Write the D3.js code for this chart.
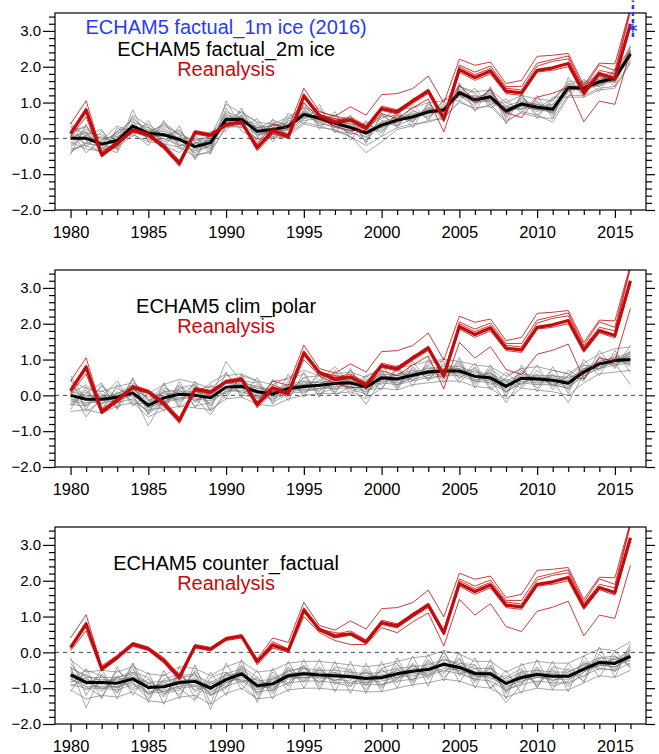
<!DOCTYPE html>
<html><head><meta charset="utf-8">
<script src="https://cdn.jsdelivr.net/npm/d3@7"></script>
<style>body{margin:0;background:#fff;} svg{display:block;font-family:"Liberation Sans",Arial,Helvetica,sans-serif;}</style>
</head><body><svg id="c" width="659" height="754"></svg>
<script>
// ---------- DATA ----------
const years = [1980,1981,1982,1983,1984,1985,1986,1987,1988,1989,1990,1991,1992,1993,1994,1995,1996,1997,1998,1999,2000,2001,2002,2003,2004,2005,2006,2007,2008,2009,2010,2011,2012,2013,2014,2015,2016];
const xTickLabels = ["1980","1985","1990","1995","2000","2005","2010","2015"];
const yTickLabels = ["-2.0","-1.0","0.0","1.0","2.0","3.0"];

// Reanalysis (same in all panels)
const reanalysisMean = [0.13,0.79,-0.46,-0.14,0.23,0.10,-0.23,-0.70,0.17,0.09,0.38,0.45,-0.26,0.20,0.05,1.18,0.63,0.45,0.52,0.29,0.83,0.74,1.04,1.32,0.55,1.92,1.70,1.88,1.32,1.27,1.90,1.97,2.09,1.27,1.81,1.67,3.20];
const reanalysisHigh = [0.40,1.05,-0.38,-0.08,0.28,0.15,-0.15,-0.62,0.22,0.14,0.42,0.50,-0.18,0.40,0.28,1.40,0.75,0.62,0.88,0.65,1.22,1.25,1.39,1.74,0.99,2.21,2.04,2.13,1.53,1.62,2.29,2.32,2.37,1.48,2.10,2.08,3.65];
const reanalysisA = [0.18,0.85,-0.42,-0.12,0.25,0.12,-0.20,-0.66,0.20,0.10,0.40,0.47,-0.22,0.25,0.08,1.25,0.68,0.50,0.60,0.35,0.90,0.80,1.08,1.38,0.62,2.00,1.78,1.95,1.40,1.35,2.02,2.15,2.22,1.35,1.90,1.80,3.55];
const reanalysisB = [0.10,0.72,-0.50,-0.16,0.20,0.08,-0.26,-0.74,0.15,0.07,0.36,0.43,-0.30,0.17,0.03,1.12,0.60,0.40,0.48,0.24,0.78,0.68,0.98,1.25,0.48,1.85,1.62,1.80,1.25,1.20,1.85,1.90,2.00,1.20,1.75,1.60,3.10];
const reanalysisC = [0.15,0.80,-0.45,-0.10,0.24,0.11,-0.22,-0.68,0.18,0.11,0.39,0.46,-0.24,0.30,0.10,1.20,0.65,0.55,0.50,0.30,0.85,0.72,1.10,1.30,0.50,2.05,1.85,2.02,1.45,1.45,2.10,2.20,2.30,1.40,2.05,1.90,3.60];
const reanalysisLow = [0.05,0.60,-0.52,-0.20,0.17,0.05,-0.30,-0.78,0.12,0.04,0.33,0.40,-0.35,0.12,0.00,1.00,0.55,0.33,0.22,0.22,0.69,0.55,0.85,1.10,0.18,1.48,1.04,1.36,0.72,0.58,1.15,1.26,1.43,0.46,1.04,0.95,2.43];

// Panel 1: ECHAM5 factual_2m ice
const factualMean = [0.00,0.00,-0.16,-0.06,0.34,0.14,0.10,-0.03,-0.23,-0.12,0.53,0.53,0.20,0.25,0.33,0.67,0.56,0.42,0.30,0.15,0.37,0.51,0.60,0.74,0.79,1.28,1.07,1.16,0.76,0.96,0.87,0.81,1.42,1.40,1.58,1.68,2.36];
const factualMembers = [
[0.25,0.30,-0.05,0.10,0.55,0.20,0.35,0.10,-0.05,0.05,0.95,0.70,0.45,0.40,0.60,0.85,0.75,0.60,0.55,0.35,0.55,0.80,0.85,1.00,1.05,1.45,1.30,1.35,1.00,1.20,1.10,1.05,1.60,1.55,1.75,1.85,2.55],
[-0.30,-0.20,-0.40,-0.25,0.10,-0.10,-0.15,-0.25,-0.50,-0.35,0.30,0.35,-0.05,0.05,0.10,0.45,0.35,0.20,0.05,-0.40,-0.10,0.25,0.35,0.50,0.55,1.05,0.80,0.95,0.50,0.70,0.60,0.55,1.20,1.20,1.40,1.45,2.15],
[0.10,-0.15,0.05,-0.20,0.45,0.30,-0.05,0.15,-0.10,-0.30,0.70,0.40,0.35,0.10,0.50,0.55,0.70,0.30,0.45,0.00,0.50,0.40,0.75,0.65,0.95,1.15,1.20,1.00,0.90,0.80,1.00,0.70,1.55,1.30,1.70,1.60,2.45],
[-0.15,0.20,-0.30,0.05,0.25,0.00,0.25,-0.15,-0.35,0.00,0.40,0.65,0.05,0.40,0.20,0.80,0.45,0.55,0.20,0.30,0.25,0.60,0.50,0.85,0.65,1.40,0.95,1.30,0.65,1.10,0.75,0.95,1.30,1.50,1.45,1.75,2.25],
[0.35,0.05,-0.10,0.15,0.20,0.40,0.05,0.20,-0.20,-0.05,0.60,0.45,0.30,0.35,0.45,0.60,0.65,0.45,0.40,0.25,0.20,0.55,0.70,0.60,0.90,1.20,1.15,1.05,0.85,0.90,0.95,0.75,1.45,1.35,1.60,1.70,2.30],
[-0.40,-0.10,-0.25,-0.40,0.40,0.05,0.15,-0.30,-0.10,-0.25,0.45,0.60,0.10,0.15,0.25,0.70,0.40,0.35,0.15,0.05,0.45,0.35,0.55,0.80,0.70,1.30,1.00,1.20,0.70,1.00,0.80,0.90,1.35,1.45,1.55,1.65,2.40],
[0.15,0.35,-0.20,0.00,0.60,0.10,0.30,-0.05,-0.40,-0.20,0.50,0.75,0.25,0.50,0.35,0.90,0.55,0.65,0.25,0.40,0.60,0.65,0.45,0.95,0.75,1.50,1.05,1.35,0.60,1.15,0.85,1.10,1.50,1.60,1.50,1.90,2.50],
[-0.10,-0.30,-0.35,-0.10,0.15,0.25,-0.10,0.05,-0.45,-0.40,0.35,0.30,0.00,0.00,0.05,0.40,0.30,0.25,0.05,-0.20,0.05,0.30,0.40,0.45,0.60,1.00,0.85,0.90,0.45,0.75,0.65,0.45,1.15,1.15,1.35,1.40,2.10],
[0.05,0.15,0.10,-0.15,0.30,0.20,0.20,0.00,-0.25,-0.10,0.75,0.55,0.15,0.30,0.55,0.65,0.60,0.50,0.35,0.20,0.40,0.45,0.65,0.70,0.85,1.25,1.10,1.10,0.80,1.00,0.95,0.85,1.40,1.40,1.60,1.60,2.35],
[-0.20,0.10,-0.15,0.20,0.50,-0.05,0.00,-0.20,-0.15,0.10,0.65,0.50,0.40,0.20,0.30,0.75,0.50,0.40,0.35,0.10,0.35,0.55,0.60,0.75,0.80,1.35,1.05,1.15,0.80,0.95,0.90,0.80,1.45,1.35,1.65,1.70,2.30],
[0.20,-0.05,-0.45,-0.05,0.35,0.15,0.40,0.10,-0.30,-0.15,0.45,0.40,0.10,0.20,0.15,0.60,0.65,0.45,0.10,0.25,0.30,0.50,0.55,0.70,0.75,1.20,1.10,1.20,0.75,0.85,0.85,0.70,1.35,1.40,1.50,1.75,2.40],
[-0.05,0.25,0.00,0.05,0.25,0.30,0.10,-0.10,-0.05,-0.05,0.55,0.60,0.30,0.25,0.40,0.50,0.55,0.35,0.30,0.15,0.45,0.60,0.65,0.80,0.85,1.30,1.00,1.10,0.85,0.95,0.80,0.85,1.40,1.45,1.55,1.60,2.35],
[0.45,-0.25,0.20,-0.30,0.80,-0.10,0.50,-0.25,0.10,-0.45,1.05,0.30,0.55,0.00,0.70,0.40,0.95,0.15,0.65,-0.15,0.70,0.30,0.95,0.50,1.10,1.05,1.40,0.85,1.10,0.70,1.20,0.55,1.70,1.15,1.85,1.45,2.55],
[-0.45,0.40,-0.50,0.30,0.05,0.50,-0.25,0.35,-0.55,0.20,0.20,0.85,-0.15,0.55,0.00,1.00,0.25,0.75,-0.05,0.50,0.05,0.80,0.30,1.00,0.45,1.55,0.75,1.45,0.40,1.25,0.55,1.15,1.15,1.65,1.30,1.95,2.20],
[0.20,-0.40,-0.05,0.35,0.15,-0.20,0.45,0.10,-0.60,0.15,0.35,0.75,0.45,-0.10,0.55,0.85,0.35,0.65,0.50,-0.10,0.65,0.35,0.80,0.55,1.05,1.20,0.90,1.40,0.55,1.20,0.65,1.05,1.50,1.25,1.75,1.55,2.60],
[-0.25,0.10,0.25,-0.35,0.65,0.35,-0.20,-0.40,0.05,-0.35,0.85,0.20,0.00,0.45,0.10,0.55,0.85,0.20,0.15,0.45,0.15,0.70,0.45,0.90,0.60,1.45,1.25,0.95,1.00,0.80,1.05,0.65,1.30,1.55,1.45,1.80,2.15],
[0.30,0.15,-0.35,0.20,0.30,0.05,0.05,0.25,-0.35,-0.20,0.60,0.45,0.30,0.35,0.40,0.75,0.50,0.55,0.40,0.35,0.30,0.65,0.55,0.85,0.70,1.30,1.15,1.25,0.90,1.05,0.90,0.95,1.45,1.50,1.65,1.80,2.45],
[-0.35,-0.15,-0.20,-0.25,0.40,0.00,0.15,-0.20,-0.15,-0.05,0.40,0.65,0.15,0.15,0.25,0.65,0.45,0.30,0.20,-0.05,0.40,0.45,0.65,0.70,0.80,1.20,1.00,1.05,0.70,0.90,0.80,0.75,1.40,1.35,1.50,1.60,2.30]
];
// 1m-ice experiment, 2016 only: [low, mean, high]
const ice1mYear = 2016;
const ice1mRange = [2.83, 3.08, 3.85];

// Panel 2: ECHAM5 clim_polar
const climPolarMean = [0.00,-0.11,-0.11,-0.05,0.07,-0.28,-0.07,0.03,0.00,-0.07,0.23,0.25,0.10,0.04,0.19,0.25,0.28,0.33,0.35,0.23,0.49,0.46,0.56,0.65,0.68,0.68,0.53,0.49,0.25,0.48,0.46,0.42,0.34,0.65,0.88,0.97,1.00];
const climPolarMembers = [
[0.40,0.20,0.10,0.25,0.35,0.05,0.30,0.45,0.35,0.20,0.55,0.60,0.40,0.30,0.50,0.70,0.55,0.60,0.65,0.50,0.80,0.75,0.85,0.95,1.00,0.95,0.85,0.80,0.55,0.75,0.80,0.70,0.60,0.90,1.15,1.30,1.35],
[-0.45,-0.40,-0.50,-0.30,-0.20,-0.60,-0.40,-0.30,-0.35,-0.40,-0.10,-0.05,-0.25,-0.30,-0.10,0.00,0.05,0.05,0.10,-0.10,0.20,0.15,0.30,0.35,0.40,0.40,0.25,0.20,-0.10,0.20,0.15,0.10,0.00,0.35,0.60,0.65,0.70],
[0.20,-0.30,0.15,-0.25,0.30,-0.10,-0.30,0.25,-0.20,0.10,0.05,0.50,-0.10,0.25,0.00,0.50,0.10,0.55,0.20,0.45,0.30,0.70,0.40,0.85,0.50,0.90,0.35,0.70,0.05,0.65,0.30,0.60,0.15,0.85,0.70,1.10,0.90],
[-0.20,0.15,-0.35,0.10,-0.15,-0.45,0.15,-0.20,0.25,-0.30,0.45,0.05,0.30,-0.15,0.40,0.05,0.45,0.10,0.55,0.00,0.65,0.25,0.75,0.45,0.85,0.50,0.70,0.30,0.45,0.30,0.60,0.25,0.55,0.45,1.05,0.80,1.20],
[0.10,0.00,-0.05,0.05,0.20,-0.20,0.00,0.10,0.10,0.00,0.35,0.30,0.20,0.10,0.25,0.35,0.35,0.40,0.40,0.30,0.55,0.50,0.60,0.70,0.75,0.75,0.60,0.55,0.35,0.55,0.50,0.50,0.40,0.70,0.90,1.00,1.05],
[-0.10,-0.20,-0.20,-0.15,0.00,-0.35,-0.15,-0.05,-0.10,-0.15,0.10,0.15,0.00,-0.05,0.10,0.15,0.20,0.25,0.25,0.15,0.40,0.35,0.45,0.55,0.60,0.60,0.45,0.40,0.15,0.40,0.35,0.35,0.25,0.55,0.80,0.90,0.95],
[0.30,-0.05,0.05,-0.35,0.45,-0.15,0.10,-0.15,0.15,0.25,0.20,0.40,0.35,-0.05,0.30,0.20,0.55,0.15,0.45,0.35,0.40,0.60,0.70,0.55,0.90,0.60,0.75,0.40,0.20,0.70,0.40,0.55,0.50,0.60,0.95,1.05,0.85],
[-0.30,0.10,-0.25,0.20,-0.05,-0.50,-0.25,0.30,-0.30,-0.20,0.40,0.00,-0.05,0.20,-0.05,0.40,0.00,0.45,0.15,0.05,0.60,0.30,0.50,0.80,0.45,0.85,0.40,0.65,0.10,0.35,0.55,0.30,0.20,0.75,0.75,0.95,1.10],
[0.55,-0.15,0.00,0.00,0.15,-0.05,0.05,0.00,0.30,-0.10,0.95,0.35,0.25,0.15,0.20,0.30,0.40,0.80,0.30,0.40,0.50,0.45,0.65,0.60,0.70,0.65,0.55,0.60,0.30,0.50,0.45,0.45,0.35,0.75,0.85,0.95,1.00],
[-0.05,-0.45,-0.15,-0.10,0.05,-0.85,-0.10,-0.10,-0.05,-0.55,0.15,0.20,0.05,0.00,0.15,0.20,0.25,0.30,0.30,-0.25,0.45,0.40,0.55,0.60,0.65,0.70,0.50,0.45,-0.20,0.45,0.40,0.40,-0.20,0.60,0.85,0.90,0.30],
[0.05,0.30,-0.10,0.00,0.10,-0.25,0.20,0.05,0.05,-0.05,0.25,0.30,0.15,0.05,0.25,0.30,0.30,0.35,0.40,0.25,0.50,0.55,0.60,0.70,0.70,0.70,0.55,0.50,0.30,0.50,0.50,0.45,0.40,0.70,0.90,1.00,1.15],
[-0.15,-0.25,0.25,-0.05,0.25,-0.35,-0.20,0.15,-0.15,0.05,0.20,0.35,0.10,0.10,0.20,0.15,0.15,0.35,0.45,0.20,0.45,0.40,0.50,0.70,0.65,0.75,0.50,0.45,0.25,0.45,0.45,0.40,0.30,0.65,0.90,1.00,1.10],
[0.45,-0.40,0.30,-0.35,0.50,-0.55,0.35,-0.30,0.40,-0.40,0.65,-0.05,0.50,-0.25,0.60,-0.05,0.70,0.05,0.75,-0.05,0.90,0.20,0.95,0.40,1.05,0.45,0.90,0.20,0.65,0.25,0.85,0.15,0.70,0.45,1.25,0.75,1.40],
[-0.40,0.25,-0.45,0.30,-0.30,0.05,-0.45,0.40,-0.35,0.30,-0.10,0.60,-0.30,0.45,-0.15,0.65,-0.05,0.70,0.00,0.55,0.15,0.85,0.25,1.00,0.35,1.05,0.20,0.85,-0.05,0.85,0.10,0.80,0.05,1.00,0.55,1.25,0.65],
[0.15,-0.60,-0.05,0.40,-0.25,-0.20,0.30,-0.35,0.00,0.35,0.60,0.20,-0.20,0.40,0.45,0.60,0.05,0.20,0.70,0.15,0.20,0.75,0.40,0.90,0.95,0.35,0.80,0.15,0.50,0.75,0.20,0.70,0.60,0.40,1.10,0.85,1.25],
[-0.25,0.05,0.35,-0.40,0.25,-0.40,-0.35,0.20,0.30,-0.45,0.00,0.55,0.40,-0.20,0.05,0.50,0.55,0.00,0.25,0.55,0.70,0.15,0.80,0.45,0.55,0.95,0.30,0.75,0.40,0.20,0.70,0.25,0.55,0.85,0.75,1.15,0.80],
[0.25,-0.10,-0.25,0.05,0.30,-0.15,0.10,0.15,-0.15,0.10,0.35,0.40,0.20,0.15,0.30,0.40,0.35,0.45,0.45,0.35,0.60,0.55,0.65,0.75,0.80,0.80,0.65,0.60,0.40,0.60,0.55,0.55,0.45,0.75,0.95,1.05,1.20],
[-0.25,-0.30,0.00,-0.20,-0.10,-0.45,-0.20,-0.10,0.15,-0.25,0.15,0.10,-0.05,-0.10,0.05,0.10,0.20,0.20,0.20,0.10,0.35,0.30,0.40,0.50,0.55,0.55,0.40,0.35,0.10,0.35,0.30,0.30,0.20,0.55,0.75,0.85,0.90]
];

// Panel 3: ECHAM5 counter_factual
const counterMean = [-0.63,-0.84,-0.84,-0.86,-0.74,-0.98,-0.96,-0.84,-0.81,-1.00,-0.76,-0.60,-0.93,-0.88,-0.65,-0.60,-0.63,-0.65,-0.68,-0.73,-0.70,-0.60,-0.53,-0.48,-0.33,-0.42,-0.59,-0.60,-0.87,-0.70,-0.62,-0.67,-0.67,-0.47,-0.28,-0.31,-0.11];
const counterMembers = [
[-0.20,-0.55,-0.50,-0.55,-0.40,-0.60,-0.65,-0.40,-0.45,-0.65,-0.40,-0.25,-0.55,-0.50,-0.30,-0.25,-0.25,-0.30,-0.35,-0.40,-0.35,-0.25,-0.15,-0.10,0.05,-0.05,-0.25,-0.25,-0.55,-0.35,-0.25,-0.30,-0.30,-0.10,0.10,0.05,0.30],
[-1.05,-1.30,-1.20,-1.25,-1.10,-1.35,-1.40,-1.25,-1.20,-1.45,-1.15,-1.00,-1.30,-1.25,-1.05,-1.00,-1.00,-1.05,-1.05,-1.10,-1.10,-1.00,-0.90,-0.85,-0.75,-0.80,-0.95,-1.00,-1.25,-1.10,-1.00,-1.05,-1.05,-0.85,-0.65,-0.70,-0.50],
[-0.40,-1.55,-0.60,-1.00,-0.45,-1.20,-0.75,-0.60,-1.05,-0.80,-0.95,-0.35,-1.15,-0.65,-0.85,-0.40,-0.85,-0.45,-0.90,-0.50,-0.95,-0.35,-0.75,-0.25,-0.55,-0.20,-0.80,-0.35,-1.10,-0.50,-0.85,-0.45,-0.90,-0.25,-0.50,-0.10,-0.35],
[-0.85,-0.60,-1.05,-0.65,-1.00,-0.75,-1.15,-1.05,-0.55,-1.60,-0.55,-0.85,-0.70,-1.10,-0.45,-0.85,-0.40,-0.90,-0.45,-0.95,-0.45,-0.85,-0.30,-0.70,-0.10,-0.65,-0.35,-0.85,-1.40,-0.90,-0.40,-0.90,-0.45,-0.70,-0.05,-0.55,0.05],
[-0.55,-0.80,-0.75,-0.80,-0.65,-0.95,-0.90,-0.80,-0.75,-0.95,-0.70,-0.55,-0.90,-0.80,-0.60,-0.55,-0.60,-0.60,-0.65,-0.70,-0.65,-0.55,-0.50,-0.45,-0.30,-0.40,-0.55,-0.55,-0.80,-0.65,-0.60,-0.60,-0.65,-0.45,-0.25,-0.25,-0.05],
[-0.75,-0.95,-0.95,-0.95,-0.85,-1.10,-1.05,-0.95,-0.90,-1.10,-0.85,-0.70,-1.00,-0.95,-0.75,-0.70,-0.70,-0.75,-0.80,-0.85,-0.80,-0.70,-0.65,-0.60,-0.45,-0.50,-0.65,-0.70,-0.95,-0.80,-0.70,-0.75,-0.75,-0.55,-0.35,-0.40,-0.20],
[-0.30,-0.90,-0.65,-1.10,-0.30,-1.05,-0.80,-1.20,-0.50,-1.05,-0.60,-0.80,-0.75,-1.15,-0.40,-0.75,-0.50,-0.80,-0.55,-0.90,-0.50,-0.75,-0.35,-0.65,0.00,-0.60,-0.45,-0.75,-0.65,-0.85,-0.50,-0.80,-0.55,-0.35,-0.40,-0.15,-0.25],
[-0.95,-0.70,-1.10,-0.70,-1.05,-0.85,-1.25,-0.55,-1.10,-0.85,-1.00,-0.45,-1.20,-0.70,-0.90,-0.45,-0.85,-0.55,-0.95,-0.55,-1.00,-0.45,-0.80,-0.30,-0.60,-0.15,-0.85,-0.40,-1.15,-0.55,-0.90,-0.50,-0.95,-0.55,-0.25,-0.45,0.00],
[-0.60,-0.75,-0.90,-0.70,-0.55,-1.00,-0.85,-0.70,-0.85,-1.05,-0.75,-0.50,-1.00,-0.75,-0.55,-0.40,-0.75,-0.60,-0.70,-0.55,-0.75,-0.60,-0.45,-0.50,-0.20,-0.35,-0.70,-0.55,-0.90,-0.60,-0.65,-0.60,-0.70,-0.40,-0.20,-0.35,0.15],
[-0.70,-1.05,-0.85,-1.00,-0.80,-0.90,-1.10,-0.95,-0.70,-1.20,-0.85,-0.65,-0.95,-1.00,-0.70,-0.65,-0.55,-0.80,-0.60,-0.85,-0.60,-0.70,-0.55,-0.40,-0.40,-0.45,-0.60,-0.65,-1.00,-0.75,-0.55,-0.80,-0.60,-0.50,-0.30,-0.20,-0.15],
[-0.45,-0.65,-0.80,-0.75,-0.70,-0.85,-1.00,-0.75,-0.95,-0.90,-0.65,-0.55,-0.85,-0.85,-0.70,-0.55,-0.65,-0.55,-0.75,-0.65,-0.70,-0.50,-0.55,-0.45,-0.35,-0.35,-0.55,-0.60,-0.85,-0.70,-0.65,-0.65,-0.70,-0.50,-0.30,-0.30,-0.10],
[-0.80,-0.85,-1.00,-0.95,-0.75,-1.15,-0.95,-0.90,-0.80,-1.15,-0.80,-0.75,-1.05,-0.90,-0.70,-0.70,-0.65,-0.70,-0.65,-0.80,-0.75,-0.65,-0.60,-0.55,-0.35,-0.50,-0.65,-0.65,-0.85,-0.75,-0.70,-0.70,-0.65,-0.50,-0.35,-0.40,-0.15],
[-0.15,-1.20,-0.45,-1.30,-0.30,-1.40,-0.50,-1.30,-0.35,-1.45,-0.30,-1.05,-0.50,-1.30,-0.25,-1.00,-0.20,-1.10,-0.25,-1.15,-0.25,-1.00,-0.10,-0.95,0.05,-0.85,-0.15,-1.00,-0.50,-1.15,-0.20,-1.05,-0.30,-0.85,0.15,-0.70,0.25],
[-1.10,-0.45,-1.30,-0.40,-1.20,-0.55,-1.45,-0.40,-1.30,-0.55,-1.20,-0.20,-1.40,-0.45,-1.10,-0.20,-1.05,-0.25,-1.15,-0.30,-1.10,-0.15,-0.95,-0.05,-0.80,0.00,-1.00,-0.20,-1.30,-0.30,-1.00,-0.25,-1.10,-0.10,-0.70,0.05,-0.45],
[-0.50,-0.95,-1.25,-0.50,-0.85,-1.30,-0.60,-1.00,-1.35,-0.70,-0.55,-0.90,-1.30,-0.55,-0.95,-0.35,-0.95,-0.40,-0.50,-1.05,-0.45,-0.30,-0.85,-0.20,-0.70,-0.30,-0.35,-1.00,-0.70,-0.45,-0.95,-0.40,-0.50,-0.80,-0.15,-0.10,-0.40],
[-0.75,-0.50,-0.65,-1.15,-0.55,-0.70,-1.20,-0.65,-0.60,-1.20,-1.00,-0.40,-0.70,-1.05,-0.50,-0.80,-0.45,-0.85,-0.95,-0.45,-0.90,-0.75,-0.35,-0.75,-0.25,-0.55,-0.75,-0.45,-1.05,-0.85,-0.45,-0.95,-0.80,-0.30,-0.45,-0.50,0.10],
[-0.40,-0.70,-0.70,-0.70,-0.60,-0.85,-0.80,-0.70,-0.65,-0.85,-0.60,-0.45,-0.80,-0.75,-0.50,-0.45,-0.50,-0.50,-0.55,-0.60,-0.55,-0.45,-0.40,-0.35,-0.20,-0.30,-0.45,-0.45,-0.75,-0.55,-0.50,-0.55,-0.55,-0.35,-0.15,-0.20,0.05],
[-0.90,-1.00,-1.00,-1.05,-0.90,-1.15,-1.10,-1.00,-0.95,-1.20,-0.95,-0.80,-1.10,-1.05,-0.85,-0.80,-0.80,-0.85,-0.85,-0.90,-0.90,-0.80,-0.75,-0.65,-0.50,-0.60,-0.75,-0.80,-1.05,-0.90,-0.80,-0.85,-0.85,-0.65,-0.45,-0.50,-0.30]
];

const panelTitles = ["ECHAM5 factual_2m ice", "ECHAM5 clim_polar", "ECHAM5 counter_factual"];
const ice1mTitle = "ECHAM5 factual_1m ice (2016)";
const reanalysisTitle = "Reanalysis";

// ---------- DRAWING ----------
const reanalysisThin = [reanalysisHigh, reanalysisA, reanalysisB, reanalysisC, reanalysisLow];
const panels = [
  {title: panelTitles[0], mean: factualMean, members: factualMembers, ice1m: true},
  {title: panelTitles[1], mean: climPolarMean, members: climPolarMembers},
  {title: panelTitles[2], mean: counterMean, members: counterMembers}
];
const tops = [13, 270, 527];
const H = 197, L = 55, R = 646;
const RED = "#c40c0c", BLUE = "#1f3cff";

const svg = d3.select("#c");
const x = d3.scaleLinear().domain([1979, 2017]).range([L, R]);
const majorY = yTickLabels.map(Number);
const minorY = d3.range(-20, 35, 2).map(v => v / 10).filter(v => !majorY.some(m => Math.abs(m - v) < 1e-9));
const majorX = xTickLabels.map(Number);
const minorX = years.filter(v => !majorX.includes(v));

panels.forEach((p, i) => {
  const top = tops[i];
  const y = d3.scaleLinear().domain([-2, 3.5]).range([top + H, top]);
  const g = svg.append("g");
  const clipId = "clip" + i;
  g.append("clipPath").attr("id", clipId).append("rect")
    .attr("x", L).attr("y", top).attr("width", R - L).attr("height", H);

  const line = d3.line().x((d, k) => x(years[k])).y(d => y(d));
  const plot = g.append("g").attr("clip-path", `url(#${clipId})`);

  // zero reference line
  plot.append("line").attr("x1", L).attr("x2", R).attr("y1", y(0)).attr("y2", y(0))
    .attr("stroke", "#444").attr("stroke-width", 1).attr("stroke-dasharray", "4,4");

  plot.selectAll(".mem").data(p.members).join("path")
    .attr("d", line).attr("fill", "none").attr("stroke", "#7a7a7a").attr("stroke-width", 0.75).attr("stroke-opacity", 0.9);
  plot.append("path").datum(p.mean).attr("d", line)
    .attr("fill", "none").attr("stroke", "#000").attr("stroke-width", 3).attr("stroke-linejoin", "round");
  plot.selectAll(".rea").data(reanalysisThin).join("path")
    .attr("d", line).attr("fill", "none").attr("stroke", RED).attr("stroke-width", 0.9).attr("stroke-opacity", 0.9);
  plot.append("path").datum(reanalysisMean).attr("d", line)
    .attr("fill", "none").attr("stroke", RED).attr("stroke-width", 3.2).attr("stroke-linejoin", "round");

  // frame
  g.append("rect").attr("x", L).attr("y", top).attr("width", R - L).attr("height", H)
    .attr("fill", "none").attr("stroke", "#000").attr("stroke-width", 1.2);

  // axes
  const fmt = d3.format(".1f");
  const yl = g.append("g").attr("transform", `translate(${L},0)`)
    .call(d3.axisLeft(y).tickValues(majorY).tickSize(12).tickPadding(2).tickFormat(fmt));
  yl.selectAll("text").attr("font-size", 15).attr("font-family", "Liberation Sans, Arial, sans-serif").attr("fill", "#000");
  g.append("g").attr("transform", `translate(${L},0)`)
    .call(d3.axisLeft(y).tickValues(minorY).tickSize(6).tickFormat(""));
  g.append("g").attr("transform", `translate(${R},0)`)
    .call(d3.axisRight(y).tickValues(majorY).tickSize(9).tickFormat(""));
  g.append("g").attr("transform", `translate(${R},0)`)
    .call(d3.axisRight(y).tickValues(minorY).tickSize(6).tickFormat(""));
  const xb = g.append("g").attr("transform", `translate(0,${top + H})`)
    .call(d3.axisBottom(x).tickValues(majorX).tickSize(8).tickPadding(8).tickFormat(d3.format("d")));
  xb.selectAll("text").attr("font-size", 16.5).attr("font-family", "Liberation Sans, Arial, sans-serif").attr("fill", "#000");
  g.append("g").attr("transform", `translate(0,${top + H})`)
    .call(d3.axisBottom(x).tickValues(minorX).tickSize(5).tickFormat(""));
  g.selectAll(".domain").remove();
  g.selectAll(".tick line").attr("stroke", "#000").attr("stroke-width", 1.2);

  // titles
  const cx = x(1990);
  if (p.ice1m) {
    g.append("text").attr("x", cx).attr("y", top + 20.5).attr("text-anchor", "middle")
      .attr("font-size", 20).attr("fill", BLUE).text(ice1mTitle);
    const bx = x(ice1mYear) + 2.5;
    g.append("line").attr("x1", bx).attr("x2", bx)
      .attr("y1", y(ice1mRange[0])).attr("y2", y(ice1mRange[2]))
      .attr("stroke", BLUE).attr("stroke-width", 2.5).attr("stroke-dasharray", "4,3");
    const sym = d3.symbol().type(d3.symbolAsterisk || d3.symbolCross).size(60);
    g.append("path").attr("d", sym()).attr("transform", `translate(${bx},${y(ice1mRange[1])})`)
      .attr("fill", "none").attr("stroke", BLUE).attr("stroke-width", 1.2);
  }
  g.append("text").attr("x", cx).attr("y", top + 42.5).attr("text-anchor", "middle")
    .attr("font-size", 20).attr("fill", "#000").text(p.title);
  g.append("text").attr("x", cx).attr("y", top + 63).attr("text-anchor", "middle")
    .attr("font-size", 20).attr("fill", RED).text(reanalysisTitle);
});
</script></body></html>
